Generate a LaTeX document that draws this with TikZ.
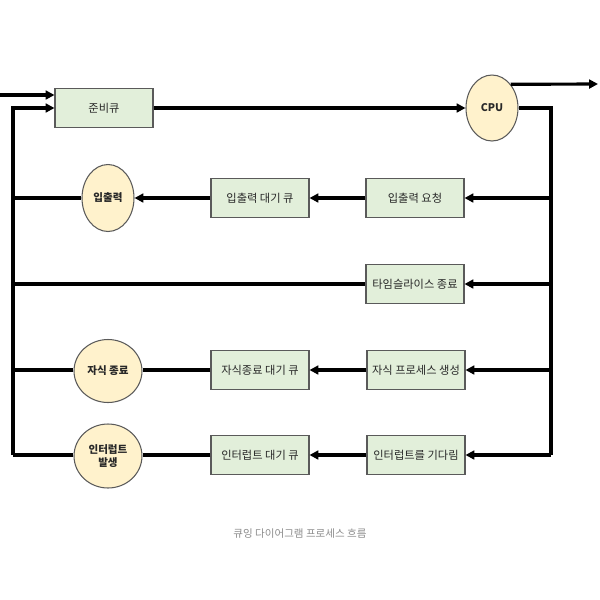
\documentclass[tikz,border=0pt]{standalone}
\usepackage{fontspec}
\setmainfont{Noto Sans CJK KR}
\usepackage{xcolor}
\usetikzlibrary{arrows.meta, shapes.geometric}

\definecolor{qgreen}{RGB}{226,239,218}
\definecolor{qyellow}{RGB}{255,242,204}
\definecolor{qedge}{RGB}{90,90,90}
\definecolor{qtext}{RGB}{40,40,40}

\begin{document}
\begin{tikzpicture}[x=0.02cm, y=-0.02cm, >={Triangle[length=5pt, width=5pt]},
  every node/.style={font=\fontsize{6.4}{7.5}\selectfont, text=qtext},
  queuebox/.style={draw=qedge, line width=0.6pt, fill=qgreen, minimum width=1.96cm, minimum height=0.78cm, inner sep=1pt},
  stateoval/.style={ellipse, draw=qedge, line width=0.6pt, fill=qyellow, inner sep=0pt, align=center, font=\fontsize{6}{7}\selectfont\bfseries},
  flow/.style={line width=1.8pt, line join=miter}]
  \useasboundingbox (0,0) rectangle (600,600);

  % queues and states
  \node[queuebox] (ready) at (104,108) {준비큐};
  \node[stateoval, minimum width=1.04cm, minimum height=1.32cm] (cpu) at (492,108) {CPU};

  \node[queuebox] (ioreq) at (415,198) {입출력 요청};
  \node[queuebox] (iowait) at (260,198) {입출력 대기 큐};
  \node[stateoval, minimum width=1.04cm, minimum height=1.34cm] (io) at (108,198) {입출력};

  \node[queuebox] (slice) at (415,284) {타임슬라이스 종료};

  \node[queuebox] (fork) at (416,370) {자식 프로세스 생성};
  \node[queuebox] (childwait) at (260,370) {자식종료 대기 큐};
  \node[stateoval, minimum width=1.36cm, minimum height=1.26cm] (childend) at (108,371) {자식 종료};

  \node[queuebox] (intwait) at (416,455) {인터럽트를 기다림};
  \node[queuebox] (intqueue) at (260,455) {인터럽트 대기 큐};
  \node[stateoval, minimum width=1.36cm, minimum height=1.28cm] (intr) at (108,456) {인터럽트\\발생};

  \node[font=\fontsize{6}{7}\selectfont, text=black!45] (caption) at (300,534) {큐잉 다이어그램 프로세스 흐름};

  % bus ends
  \coordinate (in) at (0,95);
  \coordinate (out) at (598,84);
  \coordinate (lbus) at (13,455);
  \coordinate (rbus) at (551,455);

  % main cycle
  \draw[flow,->] (in) -- (ready.west |- in);
  \draw[flow,->] (ready) -- (cpu);
  \draw[flow,->] (cpu.north east) -- (out);
  \draw[flow] (cpu.east) -| (rbus);
  \draw[flow,->] (lbus) |- (ready.west);

  % right bus to first column
  \draw[flow,->] (rbus |- ioreq) -- (ioreq);
  \draw[flow,->] (rbus |- slice) -- (slice);
  \draw[flow,->] (rbus |- fork) -- (fork);
  \draw[flow,->] (rbus) -- (intwait);

  % rows
  \draw[flow,->] (ioreq) -- (iowait);
  \draw[flow,->] (iowait.west) -- (io.east);
  \draw[flow] (io.west) -- (io.west -| lbus);
  \draw[flow] (slice) -- (slice -| lbus);
  \draw[flow,->] (fork) -- (childwait);
  \draw[flow] (childwait.west) -- (childend.east |- childwait);
  \draw[flow] (childend.west |- childwait) -- (lbus |- childwait);
  \draw[flow,->] (intwait) -- (intqueue);
  \draw[flow] (intqueue.west) -- (intr.east |- intqueue);
  \draw[flow] (intr.west |- intqueue) -- (lbus);
\end{tikzpicture}
\end{document}
